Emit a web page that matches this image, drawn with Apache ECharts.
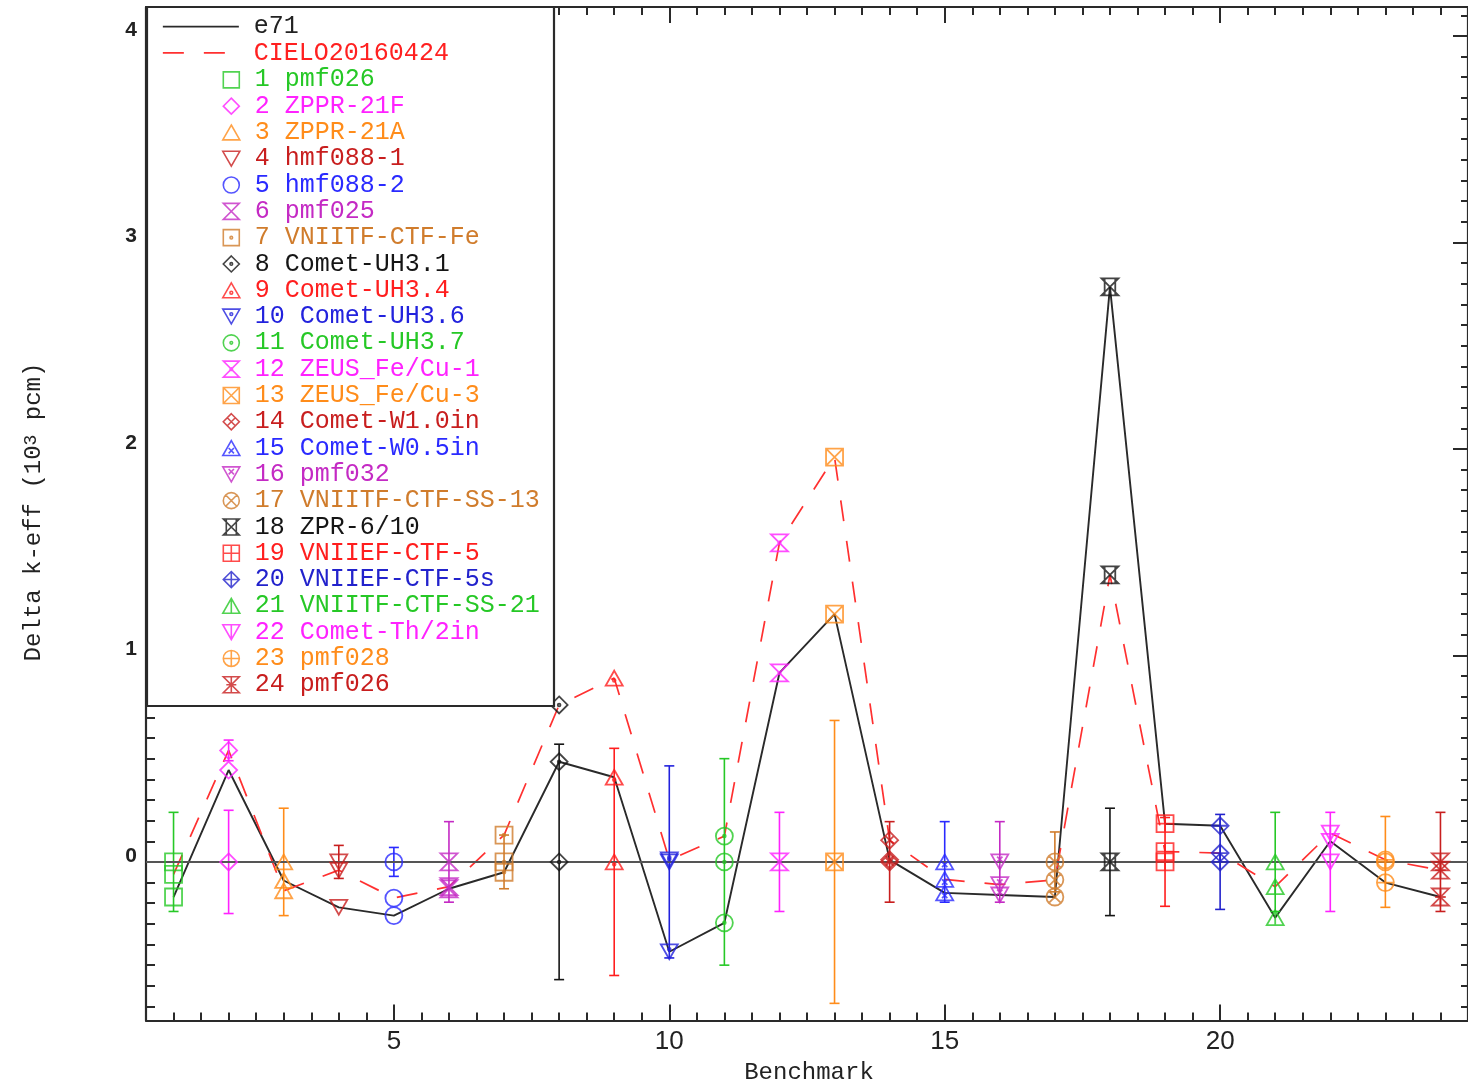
<!DOCTYPE html>
<html><head><meta charset="utf-8">
<script src="https://cdn.jsdelivr.net/npm/echarts@6/dist/echarts.min.js"></script>
<style>html,body{margin:0;padding:0;background:#fff}#c{width:1468px;height:1085px}</style>
</head><body><div id="c"></div>
<script>
// ---------------- data ----------------
const benchNames = ['pmf026','ZPPR-21F','ZPPR-21A','hmf088-1','hmf088-2','pmf025','VNIITF-CTF-Fe',
  'Comet-UH3.1','Comet-UH3.4','Comet-UH3.6','Comet-UH3.7','ZEUS_Fe/Cu-1','ZEUS_Fe/Cu-3',
  'Comet-W1.0in','Comet-W0.5in','pmf032','VNIITF-CTF-SS-13','ZPR-6/10','VNIIEF-CTF-5',
  'VNIIEF-CTF-5s','VNIITF-CTF-SS-21','Comet-Th/2in','pmf028','pmf026'];
const benchIndex = [1,2,3,4,5,6,7,8,9,10,11,12,13,14,15,16,17,18,19,20,21,22,23,24];
const e71Values  = [-0.17,0.445,-0.09,-0.22,-0.26,-0.13,-0.05,0.485,0.41,-0.435,-0.295,0.915,1.20,0.01,-0.15,-0.16,-0.17,2.785,0.185,0.175,-0.27,0.10,-0.10,-0.17];
const cielValues = [-0.06,0.54,-0.14,-0.04,-0.175,-0.12,0.13,0.76,0.89,0.01,0.125,1.545,1.96,0.105,-0.085,-0.11,-0.087,1.39,0.05,0.043,-0.12,0.14,0.01,-0.04];
const expUnc     = [0.24,0.25,0.26,0.08,0.07,0.195,0.13,0.57,0.55,0.465,0.50,0.24,0.685,0.195,0.195,0.195,0.145,0.26,0.215,0.23,0.24,0.24,0.22,0.24];
const cielUnc    = [0,0.05,0,0,0,0,0,0,0,0,0,0,0,0,0,0,0,0,0,0,0,0,0,0];
const xTickLabels = [5,10,15,20];
const yTickLabels = [0,1,2,3,4];
const lineNames = ['e71','CIELO20160424'];

// ---------------- styles ----------------
const colors = ['#26c826','#ff22ff','#ff8c1a','#c81e1e','#2a2aff','#c42ac4','#d07c2c','#151515',
  '#ff1e1e','#2222dd','#26c826','#ff22ff','#ff8c1a','#c81e1e','#2a2aff','#c42ac4','#d07c2c','#151515',
  '#ff1e1e','#2222cc','#26c826','#ff22ff','#ff8c1a','#c81e1e'];
const shapes = {
  sq: {p:'M0 0L16 0L16 16L0 16Z', c:[8,8], x:'M0 0L16 16M16 0L0 16', pl:'M8 0L8 16M0 8L16 8'},
  di: {p:'M8 0L16 8L8 16L0 8Z', c:[8,8], x:'M4 4L12 12M12 4L4 12', pl:'M8 0L8 16M0 8L16 8'},
  tu: {p:'M8 0L16 14L0 14Z', c:[8,9.3], x:'M5.5 7L10.5 12M10.5 7L5.5 12', pl:'M8 0L8 14'},
  td: {p:'M0 0L16 0L8 14Z', c:[8,4.7], x:'M5.5 2L10.5 7M10.5 2L5.5 7', pl:'M8 0L8 14'},
  ci: {p:'M16 8A8 8 0 1 1 0 8A8 8 0 1 1 16 8Z', c:[8,8], x:'M2.4 2.4L13.6 13.6M13.6 2.4L2.4 13.6', pl:'M8 0L8 16M0 8L16 8'},
  hg: {p:'M0 0L16 0L0 16L16 16Z', c:[8,8], x:'M3 0L3 16M13 0L13 16', pl:'M8 0L8 16M3 8L13 8'}
};
const shapeOrder = ['sq','di','tu','td','ci','hg'];
function symbolFor(i){
  const s = shapes[shapeOrder[i % 6]];
  const deco = Math.floor(i / 6);
  let d = s.p;
  if (deco === 1) { const [cx,cy] = s.c; d += `M${cx+1.3} ${cy}A1.3 1.3 0 1 1 ${cx-1.3} ${cy}A1.3 1.3 0 1 1 ${cx+1.3} ${cy}Z`; }
  if (deco === 2) d += s.x;
  if (deco === 3) d += s.pl;
  return 'path://' + d;
}

const XMIN = 0.5, XMAX = 24.5, YMIN = -0.768, YMAX = 4.14;
const xMinor = []; for (let v = 1; v <= 24.001; v += 0.5) xMinor.push(+v.toFixed(1));
const yMinor = []; for (let v = -7; v <= 41; v++) yMinor.push(+(v/10).toFixed(1));

// ---------------- series ----------------
const series = [];
series.push({
  name: lineNames[0], type: 'line', xAxisIndex: 0, yAxisIndex: 0, z: 3,
  data: benchIndex.map((x,i)=>[x, e71Values[i]]),
  symbol: 'none', showSymbol: false, silent: true,
  lineStyle: {color: '#2a2a2a', width: 1.9},
  itemStyle: {color: '#2a2a2a'},
  markLine: {silent: true, symbol: 'none', label: {show: false},
    lineStyle: {color: '#555', width: 2.2, type: 'solid'}, data: [{yAxis: 0}]}
});
series.push({
  name: lineNames[1], type: 'line', xAxisIndex: 0, yAxisIndex: 0, z: 3,
  data: benchIndex.map((x,i)=>[x, cielValues[i]]),
  symbol: 'none', showSymbol: false, silent: true,
  lineStyle: {color: '#ff3030', width: 1.7, type: [21, 20]},
  itemStyle: {color: '#ff3030'}
});
benchIndex.forEach((x, i) => {
  const name = x + ' ' + benchNames[i];
  series.push({
    name, type: 'scatter', xAxisIndex: 0, yAxisIndex: 0, z: 5, silent: true,
    symbol: symbolFor(i), symbolSize: 17, symbolKeepAspect: true,
    itemStyle: {color: 'transparent', borderColor: colors[i], borderWidth: 1.8},
    emphasis: {disabled: true},
    data: [[x, 0], [x, e71Values[i]], [x, cielValues[i]]]
  });
  const bars = [[x, -expUnc[i], expUnc[i]]];
  if (cielUnc[i] > 0) bars.push([x, cielValues[i]-cielUnc[i], cielValues[i]+cielUnc[i]]);
  const c = colors[i];
  series.push({
    name, type: 'custom', xAxisIndex: 0, yAxisIndex: 0, z: 4, silent: true,
    encode: {x: 0, y: [1, 2]},
    data: bars,
    renderItem: (params, api) => {
      const xv = api.value(0);
      const p1 = api.coord([xv, api.value(1)]), p2 = api.coord([xv, api.value(2)]);
      const w = 5, st = {stroke: c, lineWidth: 1.6};
      return {type: 'group', children: [
        {type: 'line', shape: {x1: p1[0], y1: p1[1], x2: p2[0], y2: p2[1]}, style: st},
        {type: 'line', shape: {x1: p1[0]-w, y1: p1[1], x2: p1[0]+w, y2: p1[1]}, style: st},
        {type: 'line', shape: {x1: p2[0]-w, y1: p2[1], x2: p2[0]+w, y2: p2[1]}, style: st}
      ]};
    }
  });
});

// ---------------- axes ----------------
const axisCol = '#2a2a2a';
function xAx(pos, major, showLine, showLabel){
  return {type: 'value', position: pos, min: XMIN, max: XMAX, gridIndex: 0,
    axisLine: {show: showLine, onZero: false, lineStyle: {color: axisCol, width: 2.2}},
    axisTick: {show: true, inside: true, length: major ? 16 : 8, customValues: major ? xTickLabels : xMinor,
      lineStyle: {color: axisCol, width: 2}},
    axisLabel: {show: showLabel, customValues: xTickLabels, fontSize: 26, fontFamily: 'Liberation Sans',
      color: '#222', margin: 8},
    splitLine: {show: false}};
}
function yAx(pos, major, showLine, showLabel, right){
  return {type: 'value', position: pos, min: YMIN, max: YMAX, gridIndex: 0,
    axisLine: {show: showLine, onZero: false, lineStyle: {color: axisCol, width: 2.2}},
    axisTick: {show: true, inside: true, length: right ? (major ? 15 : 7) : (major ? 16 : 9),
      customValues: major ? yTickLabels : yMinor, lineStyle: {color: axisCol, width: 2}},
    axisLabel: {show: showLabel, customValues: yTickLabels, fontSize: 21, fontWeight: 'bold',
      fontFamily: 'Liberation Sans', color: '#222', margin: 9, verticalAlign: 'bottom', lineHeight: 20,
      padding: [0,0,-4,0]},
    splitLine: {show: false}};
}

const legendText = {fontFamily: 'Liberation Mono', fontSize: 25, lineHeight: 26.3, padding: [0,0,0,10]};

const option = {
  animation: false,
  backgroundColor: '#fff',
  grid: {left: 146, top: 7, right: -3, bottom: 64.5, containLabel: false},
  xAxis: [xAx('bottom', true, true, true), xAx('bottom', false, false, false),
          xAx('top', true, true, false), xAx('top', false, false, false)],
  yAxis: [yAx('left', true, true, true, false), yAx('left', false, false, false, false),
          yAx('right', true, true, false, true), yAx('right', false, false, false, true)],
  legend: [
    {orient: 'vertical', left: 162, top: 13.5, padding: 0, itemGap: 0, itemWidth: 76, itemHeight: 16,
     selectedMode: false, z: 10,
     itemStyle: {color: 'transparent', borderWidth: 0, opacity: 0},
     lineStyle: {width: 1.7},
     textStyle: legendText,
     data: [{name: lineNames[0], textStyle: {color: '#222'}}, {name: lineNames[1], textStyle: {color: '#ff2020'}}]},
    {orient: 'vertical', left: 222, top: 66.7, padding: 0, itemGap: 0, itemWidth: 17, itemHeight: 16,
     selectedMode: false, z: 10,
     itemStyle: {borderWidth: 1.6},
     textStyle: legendText,
     data: benchIndex.map((x,i)=>({name: x + ' ' + benchNames[i], textStyle: {color: colors[i]}}))}
  ],
  graphic: [
    {type: 'rect', z: 8, shape: {x: 147, y: 7, width: 407, height: 699},
     style: {fill: '#fff', stroke: '#2a2a2a', lineWidth: 2.2}},
    {type: 'text', z: 10, x: 34, y: 512, rotation: Math.PI/2,
     style: {text: 'Delta k-eff (10{sup|3} pcm)', fontFamily: 'Liberation Mono', fontSize: 24, fill: '#222',
       align: 'center', verticalAlign: 'middle',
       rich: {sup: {fontFamily: 'Liberation Mono', fontSize: 18, fill: '#222', verticalAlign: 'top'}}}},
    {type: 'text', z: 10, x: 809, y: 1073,
     style: {text: 'Benchmark', fontFamily: 'Liberation Mono', fontSize: 24, fill: '#222',
       align: 'center', verticalAlign: 'middle'}}
  ],
  series
};
const chart = echarts.init(document.getElementById('c'), null, {renderer: 'canvas'});
chart.setOption(option);
</script></body></html>
